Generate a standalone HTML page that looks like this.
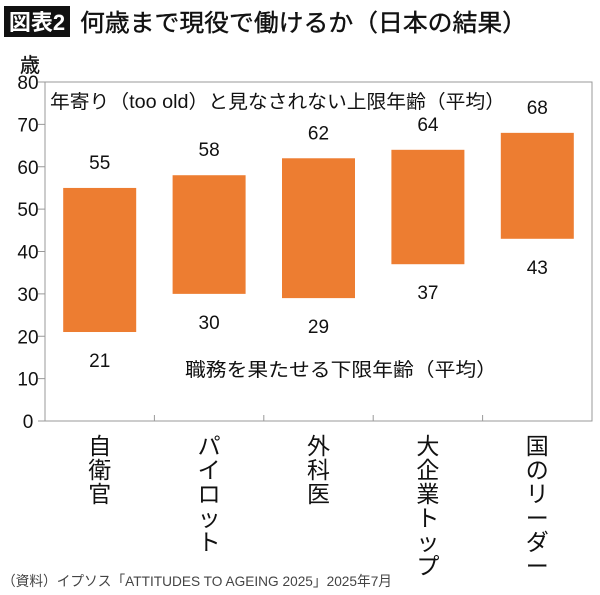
<!DOCTYPE html>
<html><head><meta charset="utf-8"><style>
body{margin:0;background:#fff;font-family:"Liberation Sans","Noto Sans CJK JP",sans-serif;}
#wrap{position:relative;width:600px;height:595px;overflow:hidden;background:#fff}
</style></head><body>
<div id="wrap">
<svg id="chart" width="600" height="595" xmlns="http://www.w3.org/2000/svg" font-family="Liberation Sans, Noto Sans CJK JP, sans-serif">
  <rect x="4" y="6" width="66" height="31" fill="#111"/>
  <text x="37" y="30" font-size="22" font-weight="bold" fill="#fff" text-anchor="middle">図表2</text>
  <text x="80" y="31" font-size="24" fill="#111" stroke="#111" stroke-width="0.4" textLength="447" lengthAdjust="spacingAndGlyphs">何歳まで現役で働けるか（日本の結果）</text>
  <text x="20" y="72" font-size="20" fill="#111" stroke="#111" stroke-width="0.3">歳</text>
  <rect x="45" y="82" width="547" height="339" fill="none" stroke="#999" stroke-width="1"/>
  <g id="yaxis"></g><g id="xaxis"></g><g id="bars"></g>
  <text x="50" y="108" font-size="19" fill="#111" textLength="455" lengthAdjust="spacingAndGlyphs">年寄り（too old）と見なされない上限年齢（平均）</text>
  <text x="185" y="376" font-size="19" fill="#111" textLength="312" lengthAdjust="spacingAndGlyphs">職務を果たせる下限年齢（平均）</text>
  <text x="2" y="586" font-size="14" fill="#444" textLength="390" lengthAdjust="spacingAndGlyphs">（資料）イプソス「ATTITUDES TO AGEING 2025」2025年7月</text>
</svg>
</div>
<script>
const categories=["自衛官","パイロット","外科医","大企業トップ","国のリーダー"];
const lowerValues=[21,30,29,37,43];
const upperValues=[55,58,62,64,68];
const yTicks=[0,10,20,30,40,50,60,70,80];
const NS="http://www.w3.org/2000/svg";
const X0=45,X1=592,Y0=421,Y1=82,YMAX=80;
const y=v=>Y0-(v/YMAX)*(Y0-Y1);
const bw=(X1-X0)/categories.length;
const xc=i=>X0+bw*(i+0.5);
function mk(tag,attrs,parent){const e=document.createElementNS(NS,tag);for(const k in attrs)e.setAttribute(k,attrs[k]);parent.appendChild(e);return e;}
const ya=document.getElementById('yaxis'),xa=document.getElementById('xaxis'),bg=document.getElementById('bars');
yTicks.forEach(t=>{
  const l=mk('line',{x1:X0-7,x2:X0,y1:y(t),y2:y(t),stroke:'#999'},ya);
  
  
  const tx=mk('text',{x:28,y:y(t)+7,'font-size':19,'text-anchor':'middle',fill:'#111'},ya);
  tx.textContent=t;
  
  
});
categories.forEach((c,i)=>{
  if(i>0){const tk=mk('line',{x1:X0+bw*i,x2:X0+bw*i,y1:Y0,y2:Y0-6,stroke:'#999'},xa);
    
    }
  const cx=xc(i);
  [...c].forEach((ch,j)=>{
    const t=mk('text',{x:cx,y:454+j*24,'font-size':23,'text-anchor':'middle',fill:'#111'},xa);
    t.textContent=ch;
    
    
  });
  const r=mk('rect',{x:cx-36.5,y:y(upperValues[i]),width:73,height:y(lowerValues[i])-y(upperValues[i]),fill:'#ED7D31'},bg);
  
  
  const tu=mk('text',{x:cx,y:y(upperValues[i])-19,'font-size':19,'text-anchor':'middle',fill:'#111'},bg);
  tu.textContent=upperValues[i];
  
  
  const tl=mk('text',{x:cx,y:y(lowerValues[i])+35,'font-size':19,'text-anchor':'middle',fill:'#111'},bg);
  tl.textContent=lowerValues[i];
  
  
});
</script>
</body></html>
